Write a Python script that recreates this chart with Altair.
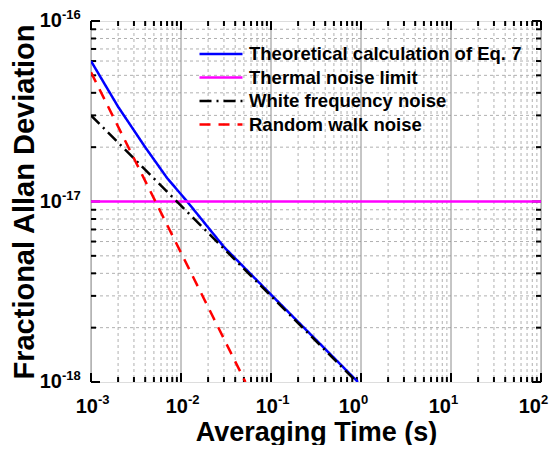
import altair as alt
import pandas as pd

# ---------------- data ----------------
series_names = [
    "Theoretical calculation of Eq. 7",
    "Thermal noise limit",
    "White frequency noise",
    "Random walk noise",
]
series_colors = ["#0000ff", "#ff00ff", "#000000", "#ff0000"]

theory_tau = [1e-3, 2e-3, 4e-3, 7e-3, 1.17e-2, 3e-2, 1e-1, 0.926]
theory_adev = [6.0e-17, 3.35e-17, 2.0e-17, 1.35e-17, 1.0e-17, 5.6e-18, 3.05e-18, 1.0e-18]
thermal_tau = [1e-3, 1e2]
thermal_adev = [1e-17, 1e-17]
white_tau = [1e-3, 0.9]
white_adev = [3.0e-17, 1.0e-18]
rw_tau = [1e-3, 0.052]
rw_adev = [5.2e-17, 1.0e-18]

x_exponents = [-3, -2, -1, 0, 1, 2]
y_exponents = [-18, -17, -16]
x_minor = [m * 10.0 ** e for e in range(-3, 2) for m in range(2, 10)]
y_minor = [m * 10.0 ** e for e in (-18, -17) for m in range(2, 10)]
x_major = [10.0 ** e for e in x_exponents]
y_major = [10.0 ** e for e in y_exponents]

# ---------------- build tables ----------------
rows = []
for name, taus, vals in [
    (series_names[0], theory_tau, theory_adev),
    (series_names[1], thermal_tau, thermal_adev),
    (series_names[2], white_tau, white_adev),
    (series_names[3], rw_tau, rw_adev),
]:
    for t, v in zip(taus, vals):
        rows.append({"series": name, "tau": t, "adev": v})
lines_df = pd.DataFrame(rows)

W, H = 450, 361
F = "Liberation Sans"
xs = alt.Scale(type="log", domain=[1e-3, 1e2], nice=False)
ys = alt.Scale(type="log", domain=[1e-18, 1e-16], nice=False)
x_axis = alt.Axis(title="Averaging Time (s)", labels=False, ticks=False, domain=False, grid=False,
                  titleFont=F, titleFontSize=27, titleFontWeight="bold", titleColor="black", titlePadding=37)
y_axis = alt.Axis(title="Fractional Allan Deviation", labels=False, ticks=False, domain=False, grid=False,
                  titleFont=F, titleFontSize=29, titleFontWeight="bold", titleColor="black", titlePadding=52)

def X(f):
    return alt.X(f, type="quantitative", scale=xs, axis=x_axis)

def Y(f):
    return alt.Y(f, type="quantitative", scale=ys, axis=y_axis)

xminor_df = pd.DataFrame({"v": x_minor})
yminor_df = pd.DataFrame({"v": y_minor})
xmajor_df = pd.DataFrame({"v": x_major})
ymajor_df = pd.DataFrame({"v": y_major})

grid_minor_x = alt.Chart(xminor_df).mark_rule(stroke="#b0b0b0", strokeWidth=1, strokeDash=[3, 3]).encode(x=X("v"))
grid_minor_y = alt.Chart(yminor_df).mark_rule(stroke="#b0b0b0", strokeWidth=1, strokeDash=[3, 3]).encode(y=Y("v"))
grid_major_x = alt.Chart(xmajor_df).mark_rule(stroke="#8c8c8c", strokeWidth=1).encode(x=X("v"))

MAJ, MIN = 9, 5
tick_layers = []
for df, ln in [(xmajor_df, MAJ), (xminor_df, MIN)]:
    tick_layers.append(alt.Chart(df).mark_rule(color="black", strokeWidth=2).encode(
        x=X("v"), y=alt.value(H), y2=alt.value(H - ln)))
    tick_layers.append(alt.Chart(df).mark_rule(color="black", strokeWidth=2).encode(
        x=X("v"), y=alt.value(0), y2=alt.value(ln)))
for df, ln in [(ymajor_df, MAJ), (yminor_df, MIN)]:
    tick_layers.append(alt.Chart(df).mark_rule(color="black", strokeWidth=2).encode(
        y=Y("v"), x=alt.value(0), x2=alt.value(ln)))
    tick_layers.append(alt.Chart(df).mark_rule(color="black", strokeWidth=2).encode(
        y=Y("v"), x=alt.value(W), x2=alt.value(W - ln)))

legend = alt.Legend(title=None, orient="none", legendX=118, legendY=21,
                    symbolType="M-2,0H2", symbolSize=462, symbolStrokeWidth=2.5,
                    labelFont=F, labelFontSize=18.5, labelFontWeight="bold",
                    labelColor="black", labelOffset=16, rowPadding=1.5, padding=0,
                    labelLimit=400)

lines = alt.Chart(lines_df).mark_line(strokeWidth=2.5, clip=True).encode(
    x=X("tau"),
    y=Y("adev"),
    color=alt.Color("series:N", scale=alt.Scale(domain=series_names, range=series_colors),
                    sort=series_names, legend=legend),
    strokeDash=alt.StrokeDash("series:N",
                              scale=alt.Scale(domain=series_names,
                                              range=[[1, 0], [1, 0], [12, 5, 2, 5], [11, 8]]),
                              sort=series_names, legend=legend),
)

xl_df = pd.DataFrame({"e": x_exponents})
yl_df = pd.DataFrame({"e": y_exponents})

def xlabels(cond, off):
    base = alt.Chart(xl_df).transform_filter(cond).transform_calculate(
        tau="pow(10, datum.e)", sup="'' + datum.e")
    ten = base.mark_text(text="10", align="right", baseline="alphabetic", font=F, fontSize=20,
                         fontWeight="bold", color="black", dx=off).encode(x=X("tau"), y=alt.value(H + 31))
    sup = base.mark_text(align="left", baseline="alphabetic", font=F, fontSize=13,
                         fontWeight="bold", color="black", dx=off).encode(
        x=X("tau"), y=alt.value(H + 22), text="sup:N")
    return [ten, sup]

ybase = alt.Chart(yl_df).transform_calculate(val="pow(10, datum.e)", sup="'' + datum.e")
yten = ybase.mark_text(text="10", align="right", baseline="alphabetic", font=F, fontSize=20,
                       fontWeight="bold", color="black", dy=6).encode(y=Y("val"), x=alt.value(-29))
ysup = ybase.mark_text(align="left", baseline="alphabetic", font=F, fontSize=13,
                       fontWeight="bold", color="black", dy=-2).encode(
    y=Y("val"), x=alt.value(-29), text="sup:N")

layers = [grid_minor_x, grid_minor_y, grid_major_x] + tick_layers + [lines] \
    + xlabels("datum.e < 0", 7) + xlabels("datum.e >= 0", 0) + [yten, ysup]

chart = alt.layer(*layers).properties(
    width=W, height=H,
    autosize=alt.AutoSizeParams(type="none"),
    padding={"left": 83, "top": 13, "right": 8, "bottom": 63},
).configure_view(stroke="black", strokeWidth=2).configure(background="white")

chart.save("out.html", embed_options={"renderer": "svg", "actions": False})
